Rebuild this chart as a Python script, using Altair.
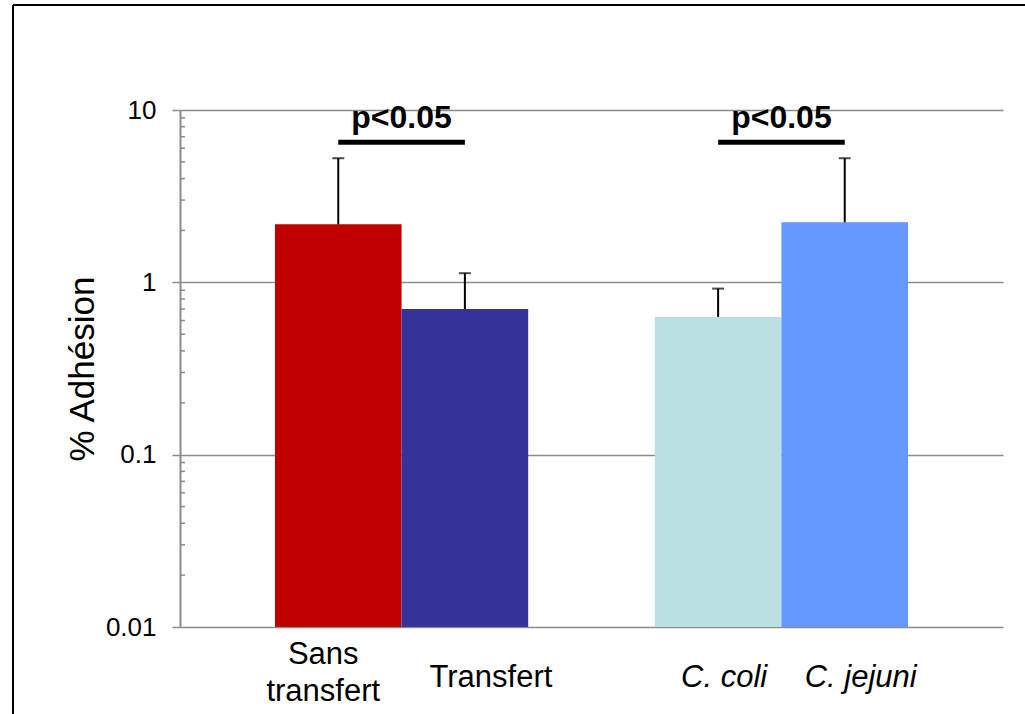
import altair as alt
import pandas as pd

# --- data ---
categories = ["Sans transfert", "Transfert", " ", "C. coli", "C. jejuni"]
bar_categories = ["Sans transfert", "Transfert", "C. coli", "C. jejuni"]
adhesion = [2.17, 0.70, 0.63, 2.23]
adhesion_upper = [5.25, 1.13, 0.92, 5.25]
bar_colors = ["#C00000", "#333399", "#BAE0E2", "#6699FF"]

sig_left = ["Sans transfert", "C. coli"]
sig_right = ["Transfert", "C. jejuni"]
sig_level = [6.5, 6.5]
sig_text = ["p<0.05", "p<0.05"]

y_min, y_max = 0.01, 10
y_ticks = [0.01, 0.1, 1, 10]
minor_ticks = [0.02, 0.03, 0.04, 0.05, 0.06, 0.07, 0.08, 0.09,
               0.2, 0.3, 0.4, 0.5, 0.6, 0.7, 0.8, 0.9,
               2, 3, 4, 5, 6, 7, 8, 9]

FONT = "Liberation Sans"
GRAY = "#8C8C8C"

bars_df = pd.DataFrame({"cat": bar_categories, "val": adhesion, "upper": adhesion_upper})
sig_lines_df = pd.DataFrame({
    "grp": [0, 0, 1, 1],
    "cat": [sig_left[0], sig_right[0], sig_left[1], sig_right[1]],
    "y": [sig_level[0], sig_level[0], sig_level[1], sig_level[1]],
})
sig_text_df = pd.DataFrame({"cat": sig_right, "y": sig_level, "label": sig_text})
minor_df = pd.DataFrame({"v": minor_ticks})

xscale = alt.Scale(domain=categories, paddingInner=0, paddingOuter=0.75)
yscale = alt.Scale(type="log", domain=[y_min, y_max], nice=False)

x_axis = alt.Axis(
    title=None, domain=False, ticks=False, tickSize=0, grid=False,
    labelFont=FONT, labelFontSize=31, labelColor="black",
    labelAngle=0, labelBaseline="middle", labelLineHeight=37,
    labelPadding={"condition": {"test": "datum.value == 'Sans transfert'", "value": 27},
                  "value": 50},
    labelExpr="datum.value == 'Sans transfert' ? ['Sans', 'transfert'] : datum.value",
    labelFontStyle={"condition": {"test": "indexof(datum.value, 'C.') == 0", "value": "italic"},
                    "value": "normal"},
    labelOffset={"condition": [
        {"test": "datum.value == 'Sans transfert'", "value": -15},
        {"test": "datum.value == 'Transfert'", "value": 26},
        {"test": "datum.value == 'C. coli'", "value": 6},
        {"test": "datum.value == 'C. jejuni'", "value": 16}],
        "value": 0},
)

y_axis = alt.Axis(
    title="% Adhésion", values=y_ticks, format="~g",
    grid=True, gridColor=GRAY, gridWidth=1.5,
    domain=True, domainColor=GRAY, domainWidth=2,
    ticks=True, tickSize=8, tickColor=GRAY, tickWidth=1.5,
    labelFont=FONT, labelFontSize=26, labelColor="black", labelPadding=16,
    titleFont=FONT, titleFontSize=35, titleFontWeight="normal", titleColor="black",
    titlePadding=5,
)

bars = alt.Chart(bars_df).mark_bar(size=126.6).encode(
    x=alt.X("cat:N", scale=xscale, axis=x_axis, sort=categories),
    y=alt.Y("val:Q", scale=yscale, axis=y_axis),
    y2=alt.datum(y_min),
    color=alt.Color("cat:N", scale=alt.Scale(domain=bar_categories, range=bar_colors), legend=None),
)

err = alt.Chart(bars_df).mark_rule(color="black", strokeWidth=2).encode(
    x=alt.X("cat:N", scale=xscale),
    y=alt.Y("val:Q", scale=yscale),
    y2="upper:Q",
)

caps = alt.Chart(bars_df).mark_tick(color="black", thickness=2, size=12, orient="horizontal").encode(
    x=alt.X("cat:N", scale=xscale),
    y=alt.Y("upper:Q", scale=yscale),
)

sig_lines = alt.Chart(sig_lines_df).mark_line(color="black", strokeWidth=5, strokeCap="butt").encode(
    x=alt.X("cat:N", scale=xscale),
    y=alt.Y("y:Q", scale=yscale),
    detail="grp:N",
)

sig_labels = alt.Chart(sig_text_df).mark_text(
    font=FONT, fontSize=32, fontWeight="bold", color="black",
    align="center", baseline="alphabetic", dy=-14,
).encode(
    x=alt.X("cat:N", scale=xscale, bandPosition=0),
    y=alt.Y("y:Q", scale=yscale),
    text="label:N",
)

minor = alt.Chart(minor_df).mark_rule(color=GRAY, strokeWidth=1.5).encode(
    y=alt.Y("v:Q", scale=yscale),
    x=alt.value(0),
    x2=alt.value(5),
)

one = alt.Data(values=[{"a": 1}])
border_left = alt.Chart(one).mark_rule(color="black", strokeWidth=2).encode(
    x=alt.value(-167), y=alt.value(-105), y2=alt.value(700),
)
border_top = alt.Chart(one).mark_rule(color="black", strokeWidth=2).encode(
    x=alt.value(-167), x2=alt.value(900), y=alt.value(-105),
)

chart = alt.layer(
    bars, err, caps, sig_lines, sig_labels, minor, border_left, border_top
).properties(
    width=823, height=517,
    autosize=alt.AutoSizeParams(type="none"),
    padding={"left": 180, "top": 110, "right": 22, "bottom": 87},
    background="white",
).configure_view(strokeWidth=0)

chart.save("out.html", embed_options={"renderer": "svg", "actions": False})
